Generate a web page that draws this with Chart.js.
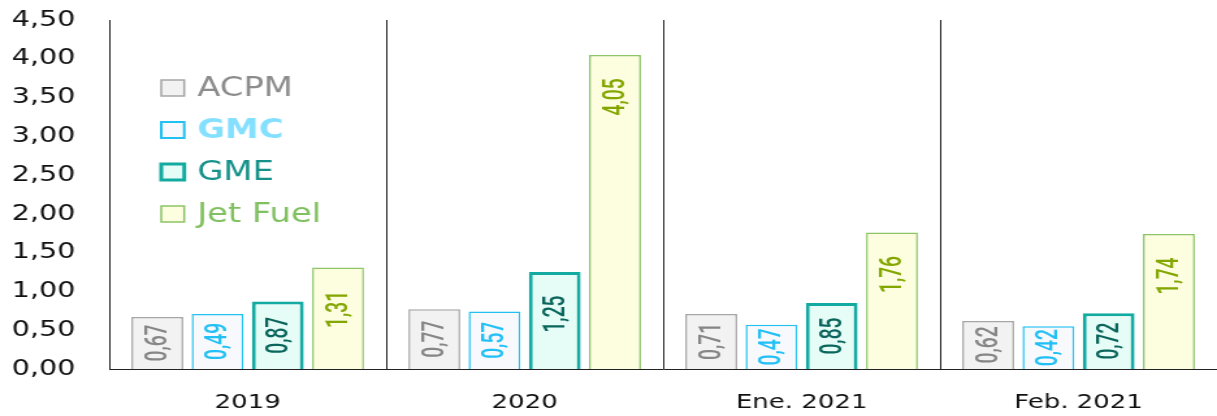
<!DOCTYPE html>
<html>
<head>
<meta charset="utf-8">
<script src="https://cdn.jsdelivr.net/npm/chart.js@4"></script>
<style>
  body { margin: 0; background: #fff; overflow: hidden; }
  #precios { display: block; }
</style>
</head>
<body>
<canvas id="precios" width="936" height="416"></canvas>
<script>
const categories = ["2019", "2020", "Ene. 2021", "Feb. 2021"];
const acpm = [0.67, 0.77, 0.71, 0.62];
// GMC bars in the picture are taller than the printed values
const gmcBars = [0.71, 0.74, 0.57, 0.55];
const gmcLabels = [0.49, 0.57, 0.47, 0.42];
const gme = [0.87, 1.25, 0.85, 0.72];
const jetFuel = [1.31, 4.05, 1.76, 1.74];

const fmt = (v) => v.toFixed(2).replace(".", ",");

const valueLabels = {
  id: "valueLabels",
  afterDatasetsDraw(chart) {
    const ctx = chart.ctx;
    chart.data.datasets.forEach((ds, i) => {
      const meta = chart.getDatasetMeta(i);
      meta.data.forEach((bar, j) => {
        const txt = fmt(ds.printed ? ds.printed[j] : ds.data[j]);
        const mid = (bar.y + bar.base) / 2;
        const cy = Math.min(mid, bar.y + 42);
        ctx.save();
        ctx.translate(bar.x, cy);
        ctx.rotate(-Math.PI / 2);
        ctx.scale(0.8, 1);
        ctx.font = "500 24px Roboto";
        ctx.fillStyle = ds.labelColor;
        ctx.textAlign = "center";
        ctx.textBaseline = "middle";
        ctx.fillText(txt, 0, 1);
        ctx.restore();
      });
    });
  },
};

const sideLegend = {
  id: "sideLegend",
  afterDraw(chart) {
    const ctx = chart.ctx;
    const left = chart.chartArea.left + 40;
    chart.data.datasets.forEach((ds, i) => {
      const cy = 88 + i * 42;
      ctx.save();
      ctx.fillStyle = ds.backgroundColor;
      ctx.fillRect(left, cy - 8, 17.7, 16);
      ctx.strokeStyle = ds.borderColor;
      ctx.lineWidth = ds.legendBorder;
      ctx.strokeRect(left, cy - 8, 17.7, 16);
      ctx.font = (ds.label === "GMC" ? "bold " : "") + "26px 'DejaVu Sans'";
      ctx.fillStyle = ds.legendColor;
      ctx.textAlign = "left";
      ctx.textBaseline = "middle";
      ctx.fillText(ds.label, left + 27.7, cy + 1);
      ctx.restore();
    });
  },
};

const canvas = document.getElementById("precios");
const ctx = canvas.getContext("2d");
const preciosChart = new Chart(ctx, {
  type: "bar",
  data: {
    labels: categories,
    datasets: [
      { label: "ACPM", data: acpm, backgroundColor: "#f2f2f2", borderColor: "#a6a6a6", borderWidth: 1.5,
        labelColor: "#868686", legendColor: "#8c8c8c", legendBorder: 1.5 },
      { label: "GMC", data: gmcBars, printed: gmcLabels, backgroundColor: "#f7f9fc", borderColor: "#22c1f2", borderWidth: 1.5,
        labelColor: "#22c0f5", legendColor: "#85e0ff", legendBorder: 2 },
      { label: "GME", data: gme, backgroundColor: "#e6fcf6", borderColor: "#13aaa2", borderWidth: 3,
        labelColor: "#0a655c", legendColor: "#15918a", legendBorder: 3 },
      { label: "Jet Fuel", data: jetFuel, backgroundColor: "#fdfee0", borderColor: "#8cc466", borderWidth: 1.5,
        labelColor: "#84a600", legendColor: "#80c060", legendBorder: 1.5 },
    ],
  },
  options: {
    responsive: false,
    devicePixelRatio: 1,
    animation: false,
    layout: { padding: { top: 20, right: 0, left: 0, bottom: 0 } },
    categoryPercentage: 0.87,
    barPercentage: 0.86,
    plugins: {
      legend: { display: false },
      tooltip: { enabled: false },
    },
    scales: {
      x: {
        grid: {
          offset: true,
          drawTicks: false,
          color: (c) => (c.index === 4 ? "rgba(0,0,0,0)" : "#222"),
          lineWidth: 1,
        },
        border: { color: "#222", width: 1 },
        ticks: {
          padding: 22,
          color: "#111",
          font: { family: "'DejaVu Sans'", size: 20 },
        },
        afterFit: (scale) => { scale.height = 47; },
      },
      y: {
        min: 0,
        max: 4.5,
        grid: { display: false, drawTicks: false },
        border: { color: "#222", width: 1 },
        ticks: {
          stepSize: 0.5,
          padding: 26,
          color: "#111",
          font: { family: "'DejaVu Sans'", size: 22 },
          callback: function (value) {
            return fmt(value);
          },
        },
        afterFit: (scale) => {
          scale.width = 84;
          scale.paddingTop = 0;
          scale.paddingBottom = 0;
        },
      },
    },
  },
  plugins: [valueLabels, sideLegend],
});

// the reference is stretched sideways, so stretch the drawn canvas the same way
canvas.style.width = "1217px";
canvas.style.height = "416px";
</script>
</body>
</html>
